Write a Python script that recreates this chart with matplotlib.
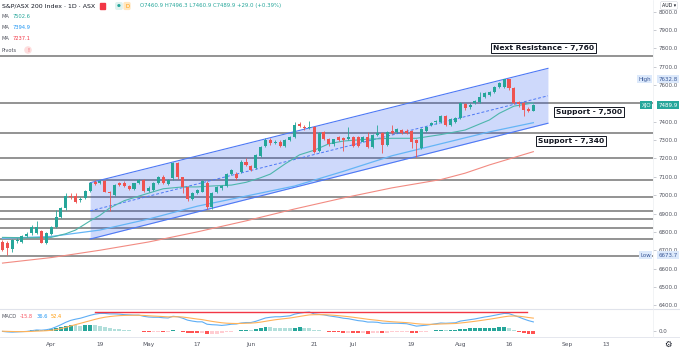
import numpy as np
import matplotlib
matplotlib.use('Agg')
import matplotlib.pyplot as plt
from matplotlib.lines import Line2D
from matplotlib.patches import Rectangle
from matplotlib.transforms import blended_transform_factory

plt.rcParams['font.family'] = ['DejaVu Sans']

W, H = 680, 354

# daily candles, trading days 18 Mar -> 23 Aug 2021 (bar index 0..109)
opens = np.array([
    6747, 6740, 6705, 6748, 6747, 6779, 6792, 6796, 6806, 6741,
    6788, 6825, 6883, 6928, 6998, 6995, 6973, 6983, 7025, 7070,
    7068, 7075, 7019, 7001, 7064, 7068, 7050, 7032, 7068, 7083,
    7025, 7030, 7064, 7097, 7061, 7092, 7173, 7097, 7043, 6979,
    7010, 7019, 7068, 6937, 7019, 7037, 7050, 7115, 7115, 7125,
    7183, 7159, 7146, 7213, 7268, 7301, 7285, 7292, 7268, 7301,
    7315, 7387, 7373, 7364, 7370, 7240, 7346, 7304, 7277, 7315,
    7312, 7304, 7315, 7315, 7292, 7315, 7261, 7328, 7337, 7273,
    7351, 7346, 7355, 7351, 7351, 7300, 7255, 7351, 7382, 7397,
    7400, 7431, 7382, 7400, 7419, 7497, 7478, 7500, 7509, 7533,
    7546, 7564, 7588, 7591, 7631, 7582, 7509, 7504, 7467, 7460.9])
highs = np.array([
    6758, 6750, 6762, 6765, 6782, 6800, 6835, 6860, 6812, 6800,
    6830, 6919, 6935, 7013, 7010, 7010, 6990, 7030, 7070, 7080,
    7085, 7080, 7025, 7060, 7072, 7075, 7055, 7068, 7090, 7090,
    7048, 7072, 7105, 7110, 7088, 7180, 7180, 7100, 7048, 7020,
    7035, 7082, 7075, 7020, 7048, 7058, 7120, 7145, 7125, 7190,
    7200, 7165, 7225, 7270, 7310, 7310, 7300, 7298, 7306, 7320,
    7400, 7400, 7380, 7404, 7375, 7342, 7350, 7310, 7308, 7320,
    7318, 7373, 7320, 7322, 7320, 7346, 7335, 7382, 7342, 7350,
    7382, 7365, 7362, 7358, 7355, 7305, 7365, 7378, 7400, 7410,
    7436, 7437, 7418, 7425, 7505, 7502, 7500, 7520, 7564, 7560,
    7570, 7597, 7615, 7628, 7632.8, 7587, 7515, 7508, 7478, 7496.3])
lows = np.array([
    6695, 6674, 6690, 6738, 6740, 6770, 6785, 6790, 6737, 6735,
    6783, 6820, 6875, 6920, 6980, 6955, 6965, 6978, 7020, 7055,
    7060, 7015, 6912, 6998, 7050, 7045, 7028, 7028, 7062, 7020,
    7018, 7025, 7060, 7062, 7055, 7085, 7090, 7010, 6970, 6972,
    7005, 7015, 6925, 6925, 7012, 7030, 7045, 7108, 7085, 7120,
    7158, 7130, 7140, 7208, 7262, 7275, 7278, 7262, 7262, 7296,
    7310, 7370, 7355, 7358, 7230, 7235, 7298, 7270, 7270, 7295,
    7242, 7298, 7262, 7260, 7288, 7255, 7255, 7322, 7228, 7268,
    7335, 7340, 7335, 7333, 7255, 7210, 7250, 7345, 7375, 7390,
    7395, 7375, 7376, 7395, 7415, 7466, 7472, 7495, 7503, 7527,
    7540, 7558, 7583, 7585, 7575, 7495, 7480, 7431, 7452, 7460.9])
closes = np.array([
    6701, 6710, 6756, 6756, 6777, 6790, 6825, 6828, 6741, 6792,
    6825, 6883, 6928, 6995, 6990, 6965, 6980, 7025, 7064, 7061,
    7079, 7019, 7010, 7055, 7055, 7050, 7032, 7064, 7083, 7025,
    7040, 7068, 7097, 7068, 7083, 7173, 7097, 7043, 6979, 7014,
    7028, 7077, 6935, 7014, 7043, 7050, 7115, 7137, 7092, 7183,
    7164, 7137, 7219, 7264, 7301, 7282, 7292, 7268, 7301, 7315,
    7382, 7378, 7364, 7373, 7237, 7338, 7304, 7277, 7304, 7301,
    7300, 7315, 7268, 7268, 7315, 7261, 7328, 7337, 7273, 7346,
    7341, 7359, 7341, 7340, 7292, 7282, 7359, 7370, 7395, 7404,
    7431, 7382, 7413, 7419, 7500, 7473, 7494, 7515, 7537, 7555,
    7564, 7591, 7609, 7631, 7582, 7500, 7497, 7464, 7460, 7489.9])

# moving averages at some bars
ma_short_bars = [0, 5, 10, 13, 15, 18, 20, 22, 25, 28, 33, 37, 40, 43, 47, 50,
                 53, 55, 58, 61, 64, 67, 70, 75, 80, 85, 90, 95, 100, 102, 105, 109]
ma_short = [6770, 6768, 6770, 6790, 6810, 6860, 6890, 6930, 6970, 6995, 7035, 7045,
            7045, 7050, 7055, 7070, 7095, 7115, 7170, 7220, 7245, 7280, 7295, 7305,
            7310, 7310, 7330, 7355, 7410, 7446, 7485, 7502.6]
ma_mid_bars = [0, 10, 20, 30, 40, 50, 60, 70, 80, 90, 100, 109]
ma_mid = [6765, 6775, 6810, 6870, 6940, 6995, 7050, 7130, 7215, 7280, 7345, 7394.9]
ma_long_bars = [0, 10, 20, 30, 40, 50, 60, 70, 80, 90, 95, 100, 105, 109]
ma_long = [6630, 6660, 6700, 6745, 6800, 6860, 6925, 6985, 7040, 7085, 7120, 7165, 7205, 7237.1]

# drawn channel (bar, price)
channel_bars = [18, 112]
channel_top = [7068, 7691]
channel_bot = [6761, 7392]

pivot_levels = [7760, 7500, 7340, 7200, 7080, 6990, 6915, 6870, 6820, 6760, 6670]

# MACD (12, 26, 9)
macd = [-3, -5, -6, -5, -4, -3, 0, 3, 2, 4,
        8, 16, 25, 35, 43, 48, 52, 58, 64, 69,
        72, 72, 70, 70, 69, 67, 66, 65, 65, 60,
        57, 56, 56, 54, 53, 60, 58, 52, 44, 40,
        37, 37, 27, 25, 24, 22, 24, 27, 28, 32,
        34, 34, 39, 46, 53, 56, 58, 58, 60, 62,
        69, 73, 76, 78, 70, 68, 66, 62, 59, 56,
        52, 50, 46, 42, 40, 36, 36, 35, 31, 31,
        31, 31, 30, 29, 24, 19, 21, 23, 26, 29,
        32, 31, 32, 33, 40, 43, 46, 49, 53, 57,
        60, 64, 68, 72, 71, 64, 57, 49, 42, 36.6]
signal = [-2.2, -2.8, -3.4, -3.7, -3.8, -3.6, -2.9, -1.7, -1.0, 0.0,
          1.6, 4.5, 8.6, 13.9, 19.7, 25.4, 30.7, 36.2, 41.7, 47.2,
          52.1, 56.1, 58.9, 61.1, 62.7, 63.6, 64.1, 64.3, 64.4, 63.5,
          62.2, 61.0, 60.0, 58.8, 57.6, 58.1, 58.1, 56.9, 54.3, 51.4,
          48.5, 46.2, 42.4, 38.9, 35.9, 33.1, 31.3, 30.4, 29.9, 30.3,
          31.1, 31.6, 33.1, 35.7, 39.1, 42.5, 45.6, 48.1, 50.5, 52.8,
          56.0, 59.4, 62.7, 65.8, 66.6, 66.9, 66.7, 65.8, 64.4, 62.7,
          60.6, 58.5, 56.0, 53.2, 50.6, 47.7, 45.4, 43.3, 40.8, 38.9,
          37.3, 36.0, 34.8, 33.6, 31.7, 29.2, 27.5, 26.6, 26.5, 27.0,
          28.0, 28.6, 29.3, 30.0, 32.0, 34.2, 36.6, 39.1, 41.9, 44.9,
          47.9, 51.1, 54.5, 58.0, 60.6, 61.3, 60.4, 58.1, 54.9, 52.4]
macd_level = 78
macd_level_bars = [19, 107.7]

tick_bars = [10, 20, 30, 40, 51, 64, 72, 84, 94, 104, 116, 124]
tick_labels = ['Apr', '19', 'May', '17', 'Jun', '21', 'Jul', '19', 'Aug', '16', 'Sep', '13']

GREEN, RED = '#26a69a', '#ef5350'


def fx(x):
    return x / W


def fy(y):
    return 1 - y / H


fig = plt.figure(figsize=(W / 100, H / 100), dpi=100)
fig.patch.set_facecolor('white')

# ---------------- price pane ----------------
ax = fig.add_axes([0, fy(309), fx(653), 309 / H])
ax.set_xlim(-0.513, 133.57)
ax.set_ylim(6379.8, 8063.5)
for s in ax.spines.values():
    s.set_visible(False)
ax.set_xticks([])

for lvl in pivot_levels:
    ax.axhline(lvl, color='#858585', lw=1.25, zorder=1)

ax.fill_between(channel_bars, channel_bot, channel_top, color='#2453f0', alpha=0.22,
                lw=0, zorder=2)
ax.plot(channel_bars, channel_top, color='#4d78f5', lw=0.8, zorder=3)
ax.plot(channel_bars, channel_bot, color='#4d78f5', lw=0.8, zorder=3)
ax.plot(channel_bars, [(a + b) / 2 for a, b in zip(channel_top, channel_bot)],
        color='#4d78f5', lw=0.7, ls=(0, (3, 2)), zorder=3)

ax.plot(ma_long_bars, ma_long, color='#f28b82', lw=0.8, zorder=3)
ax.plot(ma_mid_bars, ma_mid, color='#64b5f6', lw=0.9, zorder=3)
ax.plot(ma_short_bars, ma_short, color='#4db6ac', lw=0.8, zorder=3)

x = np.arange(len(closes))
cols = np.where(closes >= opens, GREEN, RED)
ax.vlines(x, lows, highs, colors=cols, lw=0.6, zorder=4)
ax.bar(x, np.maximum(np.abs(closes - opens), 3), bottom=np.minimum(opens, closes),
       width=0.62, color=cols, lw=0, zorder=5)

price_ticks = [p for p in range(6400, 8001, 100) if p != 7500]
ax.yaxis.tick_right()
ax.set_yticks(price_ticks)
ax.set_yticklabels([f'{p:.1f}' for p in price_ticks])
ax.tick_params(axis='y', length=2, width=0.5, color='#b2b5be', pad=2,
               labelsize=4, labelcolor='#50535e')

tr = blended_transform_factory(ax.transAxes, ax.transData)
lab_x = 1 + 5.6 / 653
for name, val, fc, tc in [('High', 7632.8, '#dce9fb', '#3b5998'),
                          ('XJO', closes[-1], GREEN, 'white'),
                          ('Low', 6673.7, '#dce9fb', '#3b5998')]:
    box = dict(boxstyle='square,pad=0.25', fc=fc, ec='none')
    ax.text(lab_x, val, f'{val:.1f}', transform=tr, fontsize=4, color=tc,
            va='center', ha='left', bbox=box, zorder=10, clip_on=False)
    ax.text(651 / 653, val, name, transform=tr, fontsize=4, color=tc,
            va='center', ha='right', bbox=box, zorder=10, clip_on=False)

# annotation boxes
box = dict(boxstyle='square,pad=0.25', fc='white', ec='#131722', lw=0.7)
fig.text(fx(493), fy(48), 'Next Resistance - 7,760', fontsize=5.4, fontweight='bold',
         color='#131722', va='center', bbox=box, zorder=20)
fig.text(fx(556), fy(112), 'Support - 7,500', fontsize=5.4, fontweight='bold',
         color='#131722', va='center', bbox=box, zorder=20)
fig.text(fx(538), fy(141), 'Support - 7,340', fontsize=5.4, fontweight='bold',
         color='#131722', va='center', bbox=box, zorder=20)

# legend block top-left
fig.text(fx(2), fy(6), 'S&P/ASX 200 Index · 1D · ASX', fontsize=4.5, color='#131722',
         va='center')
fig.add_artist(Rectangle((fx(100), fy(9)), 5 / W, 6 / H, color='#f23645',
                         transform=fig.transFigure))
fig.text(fx(117), fy(6), '●', fontsize=3.2, color=GREEN, va='center',
         bbox=dict(boxstyle='round,pad=0.45', fc='#e0f2ef', ec='none'))
fig.text(fx(125), fy(6), 'D', fontsize=3.8, color='#ff9800', va='center',
         bbox=dict(boxstyle='round,pad=0.3', fc='#ffe6bf', ec='none'))
fig.text(fx(140), fy(6), 'O7460.9 H7496.3 L7460.9 C7489.9 +29.0 (+0.39%)',
         fontsize=3.9, color=GREEN, va='center')
for yy, val, c in [(16.7, '7502.6', '#26a69a'), (27.7, '7394.9', '#2196f3'),
                   (38.7, '7237.1', '#f23645')]:
    fig.text(fx(2), fy(yy), 'MA', fontsize=3.7, color='#50535e', va='center')
    fig.text(fx(13), fy(yy), val, fontsize=3.7, color=c, va='center')
fig.text(fx(2), fy(50), 'Pivots', fontsize=3.7, color='#50535e', va='center')
fig.text(fx(28), fy(50), '!', fontsize=3.7, color='#f23645', va='center', ha='center',
         bbox=dict(boxstyle='circle,pad=0.25', fc='#fddede', ec='none'))

fig.text(fx(669), fy(5.5), 'AUD ▾', fontsize=3.4, color='#131722', va='center',
         ha='center', zorder=20,
         bbox=dict(boxstyle='round,pad=0.3', fc='white', ec='#d1d4dc', lw=0.4))

# ---------------- MACD pane ----------------
ax2 = fig.add_axes([0, fy(337), fx(653), 28 / H])
ax2.set_xlim(-0.513, 133.57)
ax2.set_ylim(-26.25, 90.4)
for s in ax2.spines.values():
    s.set_visible(False)

hist = np.array(macd) - np.array(signal)
hcols = []
for i, h in enumerate(hist):
    prev = hist[i - 1] if i else h
    if h >= 0:
        hcols.append('#26a69a' if h >= prev else '#b2dfdb')
    else:
        hcols.append('#ffcdd2' if h >= prev else '#ff5252')
ax2.bar(x, hist, width=0.8, color=hcols, lw=0, zorder=2)
ax2.plot(x, macd, color='#5eaef5', lw=0.8, zorder=3)
ax2.plot(x, signal, color='#ffb259', lw=0.8, zorder=3)
ax2.plot(macd_level_bars, [macd_level] * 2, color='#f23645', lw=1.0, zorder=4)

ax2.yaxis.tick_right()
ax2.set_yticks([0])
ax2.set_yticklabels(['0.0'])
ax2.tick_params(axis='y', length=2, width=0.5, color='#b2b5be', pad=2,
                labelsize=4, labelcolor='#50535e')
ax2.set_xticks(tick_bars)
ax2.set_xticklabels(tick_labels)
ax2.tick_params(axis='x', length=0, pad=3.5, labelsize=4.2, labelcolor='#50535e')

fig.text(fx(2), fy(316), 'MACD', fontsize=3.7, color='#50535e', va='center')
fig.text(fx(19.5), fy(316), '-15.8', fontsize=3.7, color='#f7525f', va='center')
fig.text(fx(37), fy(316), '36.6', fontsize=3.7, color='#2196f3', va='center')
fig.text(fx(51), fy(316), '52.4', fontsize=3.7, color='#ff9800', va='center')

# pane separators / scale borders
fig.add_artist(Line2D([0, 1], [fy(309), fy(309)], color='#e0e3eb', lw=0.8,
                      transform=fig.transFigure))
fig.add_artist(Line2D([0, 1], [fy(337), fy(337)], color='#e0e3eb', lw=0.6,
                      transform=fig.transFigure))
fig.add_artist(Line2D([fx(653), fx(653)], [fy(337), 1], color='#eceef2', lw=0.5,
                      transform=fig.transFigure))
fig.text(fx(668), fy(344), '⚙', fontsize=6, color='#131722', va='center', ha='center')

fig.savefig('out.png', dpi=100)
